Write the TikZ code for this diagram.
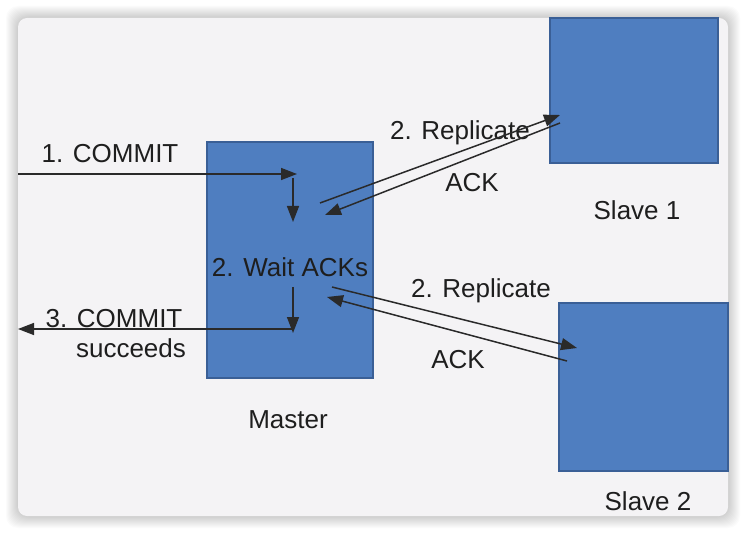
\documentclass[tikz,border=0pt]{standalone}
\usepackage{fontspec}
\setmainfont{Liberation Sans}
\usetikzlibrary{arrows.meta}
\definecolor{boxfill}{HTML}{4F7EC0}
\definecolor{boxline}{HTML}{3A5F96}
\definecolor{cardbg}{HTML}{F4F3F5}
\definecolor{ink}{HTML}{1E1E1E}
\definecolor{wire}{HTML}{2A2A2A}
\begin{document}
\begin{tikzpicture}[x=1pt,y=-1pt,
  blk/.style={draw=boxline, line width=1.3pt, fill=boxfill, inner sep=0pt},
  lbl/.style={inner sep=0pt, anchor=base, text=ink, font=\fontsize{26pt}{30pt}\selectfont},
  arr/.style={draw=wire, line width=1.5pt, -{Triangle[length=16pt,width=12pt]}}
]
\useasboundingbox (0,0) rectangle (746,534);
\fill[white] (0,0) rectangle (746,534);
% card shadow
\foreach \i in {1,...,12}{
  \fill[black, opacity=0.014, rounded corners=12pt] ({18-\i},{18-\i}) rectangle ({728+\i},{516+\i});
}
\fill[cardbg, rounded corners=9pt] (18,18) rectangle (728,516);

% boxes
\node[blk, minimum width=166pt, minimum height=236pt] (master) at (290,260) {};
\node[blk, minimum width=168pt, minimum height=145pt] (slave1) at (634,90.5) {};
\node[blk, minimum width=169pt, minimum height=168pt] (slave2) at (643.5,387) {};

% labels
\node[lbl] (commit1) at (110,163) {1. COMMIT};
\node[lbl] (wait) at (290,277) {2. Wait ACKs};
\node[lbl] (commit3) at (114,327) {3. COMMIT};
\node[lbl] (succ) at (131,357) {succeeds};
\node[lbl] (rep1) at (460,140) {2. Replicate};
\node[lbl] (ack1) at (472,192) {ACK};
\node[lbl] (rep2) at (481,298) {2. Replicate};
\node[lbl] (ack2) at (458,368) {ACK};
\node[lbl] (mlab) at (288,428) {Master};
\node[lbl] (s1lab) at (637,220) {Slave 1};
\node[lbl] (s2lab) at (648,510) {Slave 2};

% connector end points
\coordinate (inS) at (18,174);
\coordinate (inE) at (297,174);
\coordinate (d1s) at (293,178);
\coordinate (d1e) at (293,222);
\coordinate (d2s) at (293,287);
\coordinate (d2e) at (293,333);
\coordinate (outS) at (293,329);
\coordinate (outE) at (18,329);
\coordinate (r1s) at (320,203);
\coordinate (r1e) at (560,115);
\coordinate (a1s) at (560,123);
\coordinate (a1e) at (325,215);
\coordinate (r2s) at (332,287);
\coordinate (r2e) at (577,348);
\coordinate (a2s) at (567,361);
\coordinate (a2e) at (327,297);

\draw[arr] (inS) -- (inE);
\draw[arr] (d1s) -- (d1e);
\draw[arr] (d2s) -- (d2e);
\draw[arr] (outS) -- (outE);
\draw[arr] (r1s) -- (r1e);
\draw[arr] (a1s) -- (a1e);
\draw[arr] (r2s) -- (r2e);
\draw[arr] (a2s) -- (a2e);
\end{tikzpicture}
\end{document}
